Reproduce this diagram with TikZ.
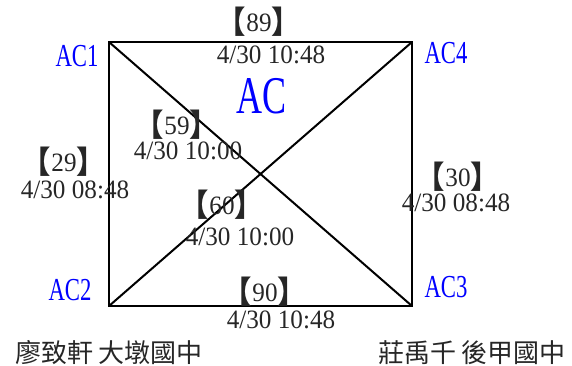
\documentclass[tikz,border=0pt]{standalone}
\usepackage{fontspec}
\setmainfont{Liberation Serif}
\newfontfamily\cjk{Noto Sans CJK TC}
\newcommand{\lb}{\raisebox{-2pt}{\cjk\bfseries\fontsize{31}{31}\selectfont【}}
\newcommand{\rb}{\raisebox{-2pt}{\cjk\bfseries\fontsize{31}{31}\selectfont】}}
\begin{document}
\begin{tikzpicture}[x=1pt,y=-1pt,
  edge/.style={line width=2pt,black},
  txt/.style={inner sep=0pt,font=\fontsize{26.5}{26.5}\selectfont,text=black!85},
  aclbl/.style={inner sep=0pt,font=\fontsize{32}{32}\selectfont,text=blue},
  bigac/.style={inner sep=0pt,font=\fontsize{53}{53}\selectfont,text=blue},
  person/.style={inner sep=0pt,font=\cjk\fontsize{26}{26}\selectfont,text=black!85}]
\useasboundingbox (0,0) rectangle (572,365);
\coordinate (c1) at (109,42);
\coordinate (c4) at (412,42);
\coordinate (c2) at (109,306);
\coordinate (c3) at (412,306);
\draw[edge] (c1) -- (c4) -- (c3) -- (c2) -- cycle;
\draw[edge] (c1) -- (c3);
\draw[edge] (c2) -- (c4);
% corner labels
\node[aclbl] (l1) at (77,56) {\scalebox{0.71}[1]{AC1}};
\node[aclbl] (l4) at (446,53) {\scalebox{0.71}[1]{AC4}};
\node[aclbl] (l2) at (70,290) {\scalebox{0.71}[1]{AC2}};
\node[aclbl] (l3) at (446,287) {\scalebox{0.71}[1]{AC3}};
\node[bigac] (ac) at (262,96) {\scalebox{0.68}[1]{AC}};
% edge values
\node[txt] (v89) at (259,22) {\scalebox{0.95}[1]{\lb89\rb}};
\node[txt] (d89) at (271,55) {\scalebox{0.95}[1]{4/30 10:48}};
\node[txt] (v59) at (177,125) {\scalebox{0.95}[1]{\lb59\rb}};
\node[txt] (d59) at (188,151) {\scalebox{0.95}[1]{4/30 10:00}};
\node[txt] (v29) at (64,162) {\scalebox{0.95}[1]{\lb29\rb}};
\node[txt] (d29) at (75,190) {\scalebox{0.95}[1]{4/30 08:48}};
\node[txt] (v30) at (458,177) {\scalebox{0.95}[1]{\lb30\rb}};
\node[txt] (d30) at (456,203) {\scalebox{0.95}[1]{4/30 08:48}};
\node[txt] (v60) at (222,205) {\scalebox{0.95}[1]{\lb60\rb}};
\node[txt] (d60) at (240,237) {\scalebox{0.95}[1]{4/30 10:00}};
\node[txt] (v90) at (265,292) {\scalebox{0.95}[1]{\lb90\rb}};
\node[txt] (d90) at (281,320) {\scalebox{0.95}[1]{4/30 10:48}};
% names
\node[person] (n1) at (109,353) {廖致軒 大墩國中};
\node[person] (n2) at (472,353) {莊禹千 後甲國中};
\end{tikzpicture}
\end{document}
